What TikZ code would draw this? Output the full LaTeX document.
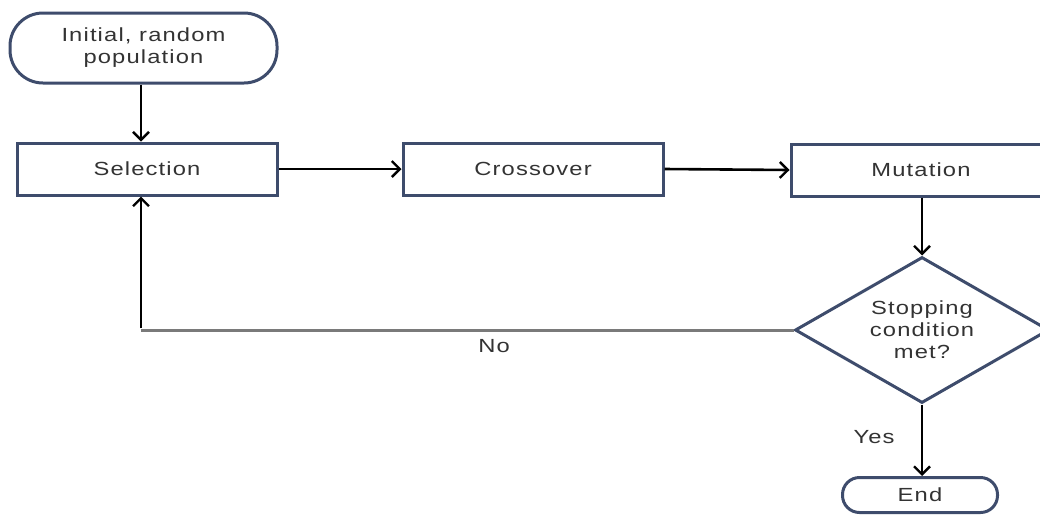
\documentclass[tikz,border=0pt]{standalone}
\usepackage{fontspec}
\setmainfont{Liberation Sans}[FakeStretch=1.25,LetterSpace=6]
\usetikzlibrary{shapes.geometric,arrows.meta}
\definecolor{boxline}{HTML}{3E4C6C}
\definecolor{txt}{HTML}{333333}
\definecolor{noline}{HTML}{7A7A7A}
\tikzset{
  base/.style={draw=boxline,line width=3pt,fill=white,text=txt,align=center,inner sep=0pt,
    font=\fontsize{19}{22}\selectfont},
  procbox/.style={base,rectangle,minimum width=260pt,minimum height=52pt},
  termbox/.style={base,rectangle,rounded corners=33pt},
  decbox/.style={base,diamond,aspect=1.74,minimum width=254pt,minimum height=146pt},
  flow/.style={draw=black,line width=2.6pt,-{Straight Barb[length=8pt,width=16pt,line width=2.4pt]}},
  lbl/.style={text=txt,font=\fontsize{19}{22}\selectfont,inner sep=0pt}
}
\begin{document}
\begin{tikzpicture}[x=1pt,y=-1pt]
\useasboundingbox[fill=white] (0,0) rectangle (1040,515);
\node[termbox,minimum width=267pt,minimum height=70pt] (start) at (143.5,48) {Initial, random\\population};
\node[procbox] (sel) at (147,169) {Selection};
\node[procbox] (cross) at (533,169) {Crossover};
\node[procbox] (mut) at (921,170) {Mutation};
\node[decbox] (dia) at (922,330) {Stopping\\condition\\met?};
\node[termbox,rounded corners=17pt,minimum width=155pt,minimum height=35pt] (end) at (920,495) {End};
\coordinate (corner) at (141,328);
\draw[flow] (start.south -| 141,0) -- (sel.north -| 141,0);
\draw[flow] (sel.east) -- (cross.west);
\draw[flow] (cross.east) -- (mut.west);
\draw[flow] (mut.south -| dia.north) -- (dia.north);
\draw[draw=noline,line width=3pt] (dia.west) -- (dia.west -| corner) coordinate (c2);
\draw[flow] (corner) -- (corner |- sel.south);
\draw[flow] (dia.south) -- (end.north -| dia.south);
\node[lbl] (no) at (494,346) {No};
\node[lbl] (yes) at (874,437) {Yes};
\end{tikzpicture}
\end{document}
